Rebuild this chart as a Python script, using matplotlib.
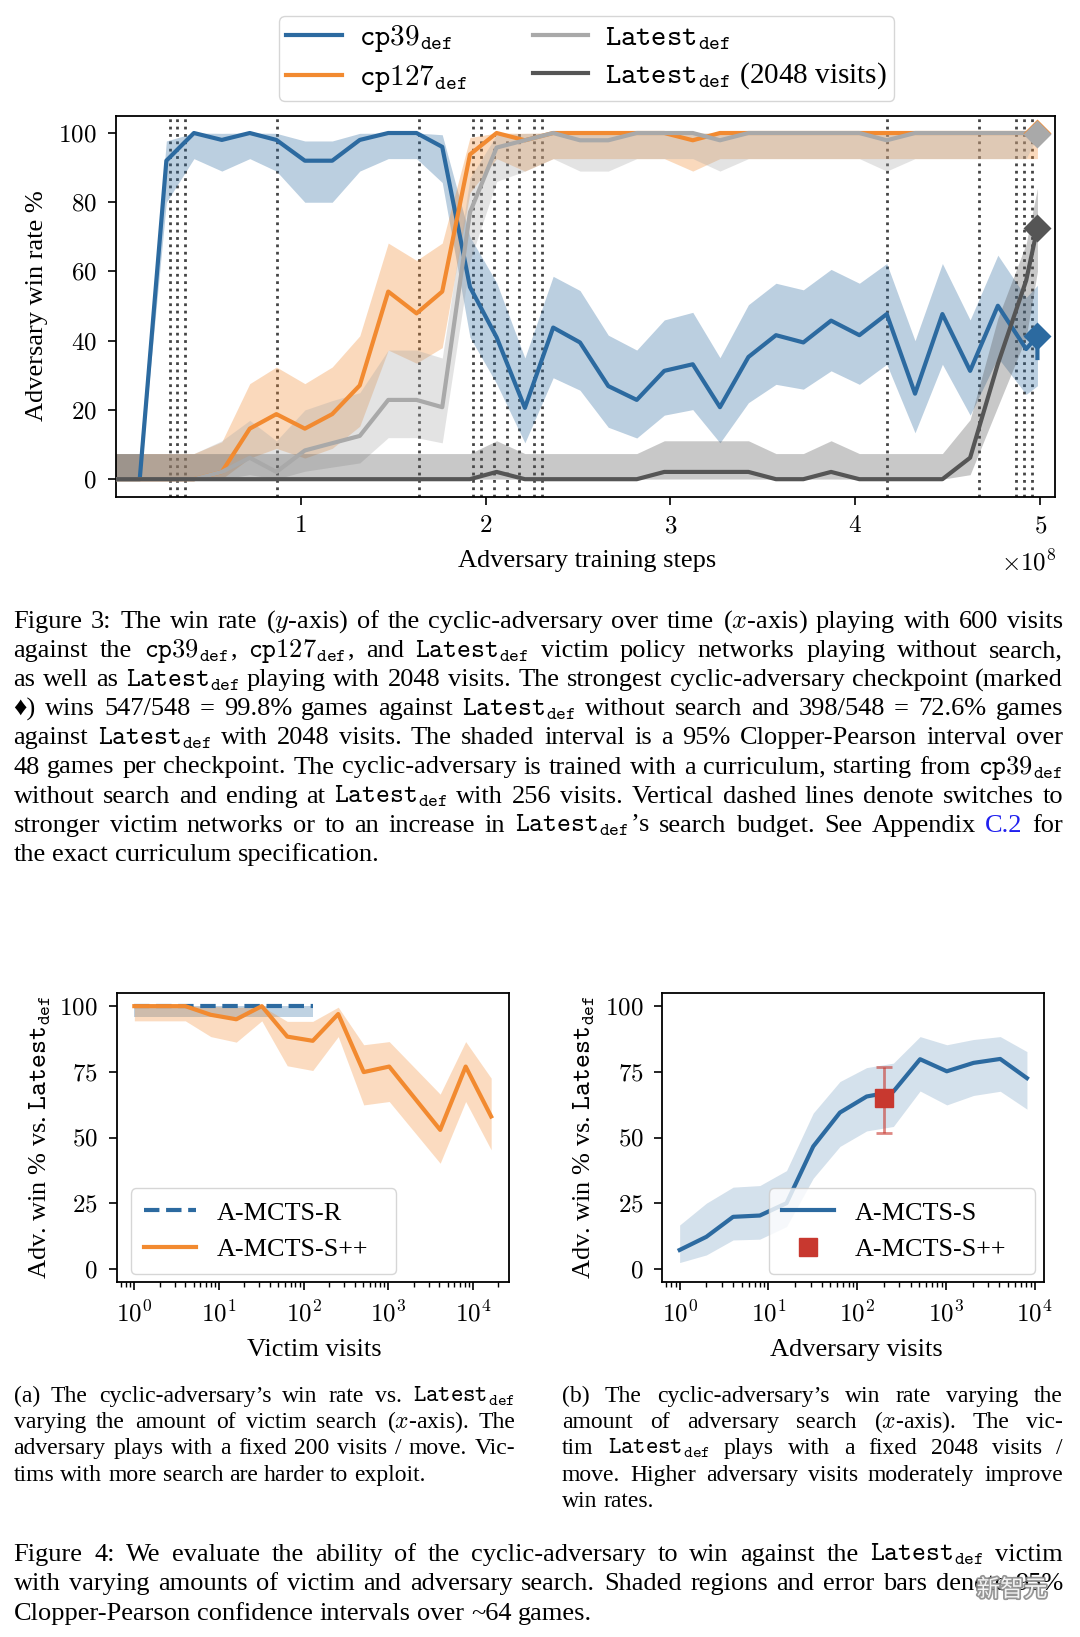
import numpy as np
import matplotlib
matplotlib.use('Agg')
import matplotlib.pyplot as plt
from matplotlib.ticker import FuncFormatter, LogLocator, NullFormatter
from matplotlib.lines import Line2D
import matplotlib.patheffects as pe

plt.rcParams['font.family'] = ['Liberation Serif', 'DejaVu Serif']
plt.rcParams['mathtext.fontset'] = 'cm'
plt.rcParams['axes.linewidth'] = 1.3

W, H = 1080, 1637

# ---------------- Figure 3 data (x in units of 1e8 steps) ----------------
steps = [0.0, 0.13, 0.274, 0.423, 0.574, 0.725, 0.869, 1.023, 1.171, 1.32, 1.474,
         1.627, 1.766, 1.916, 2.06, 2.213, 2.366, 2.511, 2.664, 2.818, 2.967, 3.121,
         3.268, 3.422, 3.571, 3.719, 3.869, 4.022, 4.17, 4.323, 4.471, 4.621, 4.771,
         4.924, 4.985, 4.985]

cp39 = [0, 0, 92, 100, 98, 100, 98, 92, 92, 98, 100, 100, 96, 55.5, 41, 20.6, 43.8,
        39.5, 26.9, 22.9, 31.3, 33.2, 20.8, 35.3, 41.6, 39.5, 45.8, 41.6, 47.7, 24.7,
        47.7, 31.3, 50.1, 37.6, 41.4, 35]
cp39_lo = [0, 0, 80, 92.6, 89, 92.6, 89, 80, 80, 89, 92.6, 92.6, 85.7, 41, 27.6, 10.5,
           29.3, 25.7, 15, 11.9, 18.5, 20.1, 10.5, 22.1, 27.4, 26, 31.3, 27.4, 33.2,
           13.4, 33.2, 18.5, 35.1, 24.5, 27, 27]
cp39_hi = [7.4, 7.4, 97.7, 100, 99.9, 100, 99.9, 97.7, 97.7, 99.9, 100, 100, 99.5, 70,
           56.8, 35, 58.6, 54.5, 41.6, 37.3, 46, 48.2, 35.1, 50.4, 56.6, 54.7, 60.6,
           56.6, 62.3, 40, 62.3, 46, 64.7, 52.5, 56, 56]

cp127 = [0, 0, 0, 0, 2.1, 14.6, 18.8, 14.6, 18.8, 27.1, 54.2, 47.9, 54.2, 93.8, 100,
         97.9, 100, 100, 100, 100, 100, 97.9, 100, 100, 100, 100, 100, 100, 100, 100,
         100, 100, 100, 100, 100, 100]
cp127_lo = [0, 0, 0, 0, 0.05, 6.1, 8.9, 6.1, 8.9, 15.3, 37.3, 33.5, 38, 82.8, 92.6, 89,
            92.6, 92.6, 92.6, 92.6, 92.6, 89, 92.6, 92.6, 92.6, 92.6, 92.6, 92.6, 92.6,
            92.6, 92.6, 92.6, 92.6, 92.6, 92.6, 92.6]
cp127_hi = [7.4, 7.4, 7.4, 7.4, 10.8, 27.6, 32.4, 27.6, 32.4, 41.4, 68.2, 63.2, 68.2,
            98.7, 100, 99.9, 100, 100, 100, 100, 100, 99.9, 100, 100, 100, 100, 100,
            100, 100, 100, 100, 100, 100, 100, 100, 100]

latest = [0, 0, 0, 0, 2.1, 6.2, 2.1, 8.3, 10.4, 12.5, 22.9, 22.9, 20.8, 77.1, 95.8,
          97.9, 100, 97.9, 97.9, 100, 100, 100, 97.9, 100, 100, 100, 100, 100, 97.9,
          100, 100, 100, 100, 100, 99.8, 99.8]
latest_lo = [0, 0, 0, 0, 0.05, 1.3, 0.05, 2.3, 3.5, 4.7, 12, 12, 10.5, 63, 86, 89,
             92.6, 89, 89, 92.6, 92.6, 92.6, 89, 92.6, 92.6, 92.6, 92.6, 92.6, 89,
             92.6, 92.6, 92.6, 92.6, 92.6, 99, 99]
latest_hi = [7.4, 7.4, 7.4, 7.4, 11.1, 17, 11.1, 20, 22.7, 25, 37.3, 37.3, 35, 87,
             99.5, 99.9, 100, 99.9, 99.9, 100, 100, 100, 99.9, 100, 100, 100, 100,
             100, 99.9, 100, 100, 100, 100, 100, 100, 100]

latest2048 = [0, 0, 0, 0, 0, 0, 0, 0, 0, 0, 0, 0, 0, 0, 2.1, 0, 0, 0, 0, 0, 2.1, 2.1,
              2.1, 2.1, 0, 0, 2.1, 0, 0, 0, 0, 6.2, 33.3, 57.4, 72.6, 72.6]
latest2048_lo = [0, 0, 0, 0, 0, 0, 0, 0, 0, 0, 0, 0, 0, 0, 0.05, 0, 0, 0, 0, 0, 0.05,
                 0.05, 0.05, 0.05, 0, 0, 0.05, 0, 0, 0, 0, 1.3, 21, 41, 60, 60]
latest2048_hi = [7.4, 7.4, 7.4, 7.4, 7.4, 7.4, 7.4, 7.4, 7.4, 7.4, 7.4, 7.4, 7.4, 7.4,
                 11.1, 7.4, 7.4, 7.4, 7.4, 7.4, 11.1, 11.1, 11.1, 11.1, 7.4, 7.4, 11.1,
                 7.4, 7.4, 7.4, 7.4, 17.2, 46.5, 68, 84, 84]

# curriculum switches
switches = [0.292, 0.334, 0.377, 0.870, 1.641, 1.933, 1.975, 2.045, 2.114, 2.182,
            2.264, 2.305, 4.170, 4.670, 4.868, 4.913, 4.955]

# ---------------- Figure 4 data ----------------
victim_visits = [1, 2, 4, 8, 16, 32, 64, 128, 256, 512, 1024, 4096, 8192, 16384]
spp_victim = [100, 100, 100, 96.7, 95, 100, 88.4, 86.8, 97, 74.9, 77, 52.9, 77, 58]
spp_victim_lo = [94.4, 94.4, 94.4, 88.4, 86.3, 94.4, 77.3, 75.5, 88.4, 62.4, 63.7, 40.2, 63.7, 45.3]
spp_victim_hi = [100, 100, 100, 99.9, 99.5, 100, 94.2, 94.2, 99.6, 85.3, 86.5, 66.5, 86.5, 72.6]

r_visits = [1, 2, 4, 8, 16, 32, 64, 128]
amcts_r = [100, 100, 100, 100, 100, 100, 100, 100]
amcts_r_lo = [96, 96, 96, 96, 96, 96, 96, 96]
amcts_r_hi = [100, 100, 100, 100, 100, 100, 100, 100]

adv_visits = [1, 2, 4, 8, 16, 32, 64, 128, 256, 512, 1024, 2048, 4096, 8192]
amcts_s = [7.2, 12.2, 19.8, 20.3, 25, 46.6, 59.5, 65.6, 67.5, 79.8, 75.2, 78.4, 79.9, 72.6]
amcts_s_lo = [2.4, 5.3, 11, 11.3, 16.1, 34.5, 46.6, 52.5, 54.2, 67.7, 62.4, 66, 67.6, 60.8]
amcts_s_hi = [16.7, 25, 31.1, 31.7, 37.4, 59.3, 71.3, 76.6, 78.3, 88.4, 85.3, 87.3, 88.4, 82.7]
spp_visits = [200]
spp_adv = [65]
spp_adv_err = [[13.4], [12]]

BLUE = '#2c6aa0'
ORANGE = '#f28a30'
LGRAY = '#a9a9a9'
DGRAY = '#555555'
SPP_RED = '#c8382f'

fig = plt.figure(figsize=(W / 100, H / 100), dpi=100)

num_fmt = FuncFormatter(lambda v, p: r'$%d$' % round(v))
log_fmt = FuncFormatter(lambda v, p: r'$10^{%d}$' % round(np.log10(v)))


def style_ax(ax):
    ax.tick_params(which='major', length=6, width=1.2, pad=7.5, labelsize=18, direction='out')
    ax.tick_params(which='minor', length=3.5, width=1.0, direction='out')


def fig_box(x0, y0, x1, y1):
    # pixel box (top-left origin) -> figure fraction rect
    return (x0 / W, 1 - y1 / H, (x1 - x0) / W, (y1 - y0) / H)


# ---------------- Figure 3 ----------------
ax = fig.add_axes(fig_box(115.7, 115.7, 1055, 496.5))
for s in switches:
    ax.axvline(s, color='#444444', ls=':', lw=2, zorder=1)
series = [(cp39, cp39_lo, cp39_hi, BLUE), (cp127, cp127_lo, cp127_hi, ORANGE),
          (latest, latest_lo, latest_hi, LGRAY), (latest2048, latest2048_lo, latest2048_hi, DGRAY)]
for vals, lo, hi, col in series:
    ax.fill_between(steps, lo, hi, color=col, alpha=0.32, lw=0, zorder=2)
    ax.plot(steps, vals, color=col, lw=3, zorder=3)
# strongest checkpoint markers
for vals, col in [(cp127, ORANGE), (latest, LGRAY), (latest2048, DGRAY), (cp39, BLUE)]:
    ax.plot(steps[-2], vals[-2], marker='D', ms=14, color=col, mec='none', zorder=4)
ax.set_xlim(0, 5.08)
ax.set_ylim(-5, 105)
ax.set_xticks([1, 2, 3, 4, 5])
ax.set_yticks([0, 20, 40, 60, 80, 100])
ax.xaxis.set_major_formatter(num_fmt)
ax.yaxis.set_major_formatter(num_fmt)
style_ax(ax)
fig.text(37.5 / W, 1 - 306 / H, 'Adversary win rate %', rotation=90, ha='center', va='center', fontsize=19)
fig.text(587 / W, 1 - 561 / H, 'Adversary training steps', ha='center', va='center', fontsize=19)
fig.text(1057 / W, 1 - 563 / H, r'$\times10^{8}$', ha='right', va='center', fontsize=18)

handles = [Line2D([], [], color=c, lw=3) for c in [BLUE, ORANGE, LGRAY, DGRAY]]
labels = [r'$\mathtt{cp39}_{\mathtt{def}}$', r'$\mathtt{cp127}_{\mathtt{def}}$',
          r'$\mathtt{Latest}_{\mathtt{def}}$', r'$\mathtt{Latest}_{\mathtt{def}}$ (2048 visits)']
fig.legend(handles, labels, ncol=2, loc='upper left', bbox_to_anchor=fig_box(279, 15.7, 894.4, 102.8),
           bbox_transform=fig.transFigure, mode='expand', borderaxespad=0, fontsize=21,
           handlelength=1.9, handletextpad=0.6, labelspacing=0.3, borderpad=0.25, edgecolor='0.8')

# ---------------- Figure 4a ----------------
axa = fig.add_axes(fig_box(116.5, 993, 509, 1282))
axa.fill_between(r_visits, amcts_r_lo, amcts_r_hi, color=BLUE, alpha=0.3, lw=0)
axa.plot(r_visits, amcts_r, color=BLUE, lw=3, ls='--', label='A-MCTS-R')
axa.fill_between(victim_visits, spp_victim_lo, spp_victim_hi, color=ORANGE, alpha=0.3, lw=0)
axa.plot(victim_visits, spp_victim, color=ORANGE, lw=3, label='A-MCTS-S++')
axa.set_xscale('log')
axa.set_ylim(-5, 105)
axa.set_yticks([0, 25, 50, 75, 100])
axa.yaxis.set_major_formatter(num_fmt)
axa.xaxis.set_major_locator(LogLocator(base=10, numticks=10))
axa.xaxis.set_minor_locator(LogLocator(base=10, subs=np.arange(2, 10), numticks=50))
axa.xaxis.set_major_formatter(log_fmt)
axa.xaxis.set_minor_formatter(NullFormatter())
style_ax(axa)
axa.legend(loc='lower left', bbox_to_anchor=fig_box(131, 1192, 396.3, 1274), bbox_transform=fig.transFigure,
           mode='expand', borderaxespad=0, fontsize=18.8, handlelength=2.0, borderpad=0.5,
           labelspacing=0.5, edgecolor='0.8')
fig.text(40 / W, 1 - 1137 / H, r'Adv. win % vs. $\mathtt{Latest}_{\mathtt{def}}$', rotation=90,
         ha='center', va='center', fontsize=19)
fig.text(314.5 / W, 1 - 1350 / H, 'Victim visits', ha='center', va='center', fontsize=19)

# ---------------- Figure 4b ----------------
axb = fig.add_axes(fig_box(662.3, 993, 1044.3, 1282))
axb.fill_between(adv_visits, amcts_s_lo, amcts_s_hi, color=BLUE, alpha=0.2, lw=0)
axb.plot(adv_visits, amcts_s, color=BLUE, lw=3)
axb.errorbar(spp_visits, spp_adv, yerr=spp_adv_err, fmt='none', ecolor=SPP_RED, alpha=0.6,
             capsize=6, elinewidth=2, capthick=2)
axb.plot(spp_visits, spp_adv, 's', color=SPP_RED, ms=13)
axb.set_xscale('log')
axb.set_ylim(-5, 105)
axb.set_yticks([0, 25, 50, 75, 100])
axb.yaxis.set_major_formatter(num_fmt)
axb.xaxis.set_major_locator(LogLocator(base=10, numticks=10))
axb.xaxis.set_minor_locator(LogLocator(base=10, subs=np.arange(2, 10), numticks=50))
axb.xaxis.set_major_formatter(log_fmt)
axb.xaxis.set_minor_formatter(NullFormatter())
style_ax(axb)
hb = [Line2D([], [], color=BLUE, lw=3), Line2D([], [], marker='s', ls='none', color=SPP_RED, ms=13)]
axb.legend(hb, ['A-MCTS-S', 'A-MCTS-S++'], loc='lower left',
           bbox_to_anchor=fig_box(768.5, 1192, 1035, 1274), bbox_transform=fig.transFigure,
           mode='expand', borderaxespad=0, fontsize=18.8, handlelength=2.0, borderpad=0.5,
           labelspacing=0.5, edgecolor='0.8')
fig.text(584 / W, 1 - 1137 / H, r'Adv. win % vs. $\mathtt{Latest}_{\mathtt{def}}$', rotation=90,
         ha='center', va='center', fontsize=19)
fig.text(856.6 / W, 1 - 1350 / H, 'Adversary visits', ha='center', va='center', fontsize=19)

# ---------------- captions ----------------
renderer = fig.canvas.get_renderer()
L = r'$\mathtt{Latest}_{\mathtt{def}}$'


def para(lines, x0, x1, base0, dy, size):
    for i, line in enumerate(lines):
        words = line.split(' ')
        y = 1 - (base0 + i * dy) / H
        txts = [fig.text(0, y, w, fontsize=size, va='baseline', ha='left',
                         color='#2020ee' if w == 'C.2' else 'black') for w in words]
        wid = [t.get_window_extent(renderer).width for t in txts]
        if i < len(lines) - 1 and len(words) > 1:
            gap = (x1 - x0 - sum(wid)) / (len(words) - 1)
        else:
            gap = 0.25 * size * 100 / 72
        x = x0
        for t, w in zip(txts, wid):
            t.set_x(x / W)
            x += w + gap


cap3 = [
    r'Figure 3: The win rate ($y$-axis) of the cyclic-adversary over time ($x$-axis) playing with 600 visits',
    r'against the $\mathtt{cp39}_{\mathtt{def}}$, $\mathtt{cp127}_{\mathtt{def}}$, and ' + L + ' victim policy networks playing without search,',
    'as well as ' + L + ' playing with 2048 visits. The strongest cyclic-adversary checkpoint (marked',
    '\u2666) wins 547/548 = 99.8% games against ' + L + ' without search and 398/548 = 72.6% games',
    'against ' + L + ' with 2048 visits. The shaded interval is a 95% Clopper-Pearson interval over',
    r'48 games per checkpoint. The cyclic-adversary is trained with a curriculum, starting from $\mathtt{cp39}_{\mathtt{def}}$',
    'without search and ending at ' + L + ' with 256 visits. Vertical dashed lines denote switches to',
    'stronger victim networks or to an increase in ' + L + '\u2019s search budget. See Appendix C.2 for',
    'the exact curriculum specification.',
]
para(cap3, 13.6, 1063, 628, 29.1, 19)

cap_a = [
    '(a) The cyclic-adversary\u2019s win rate vs. ' + L,
    r'varying the amount of victim search ($x$-axis). The',
    'adversary plays with a fixed 200 visits / move. Vic-',
    'tims with more search are harder to exploit.',
]
para(cap_a, 13.6, 515, 1402, 26.2, 17)

cap_b = [
    '(b) The cyclic-adversary\u2019s win rate varying the',
    r'amount of adversary search ($x$-axis). The vic-',
    'tim ' + L + ' plays with a fixed 2048 visits /',
    'move. Higher adversary visits moderately improve',
    'win rates.',
]
para(cap_b, 562, 1063, 1402, 26.2, 17)

cap4 = [
    'Figure 4: We evaluate the ability of the cyclic-adversary to win against the ' + L + ' victim',
    'with varying amounts of victim and adversary search. Shaded regions and error bars denote 95%',
    'Clopper-Pearson confidence intervals over ~64 games.',
]
para(cap4, 13.6, 1063, 1561, 29.4, 19)

# watermark
fig.text(1012 / W, 1 - 1590 / H, '新智元', family=['Noto Sans CJK SC', 'DejaVu Sans'], fontsize=17,
         color='white', ha='center', va='center', alpha=0.9,
         path_effects=[pe.withStroke(linewidth=2.5, foreground='#8a8a8a')])

fig.savefig('out.png', dpi=100)
